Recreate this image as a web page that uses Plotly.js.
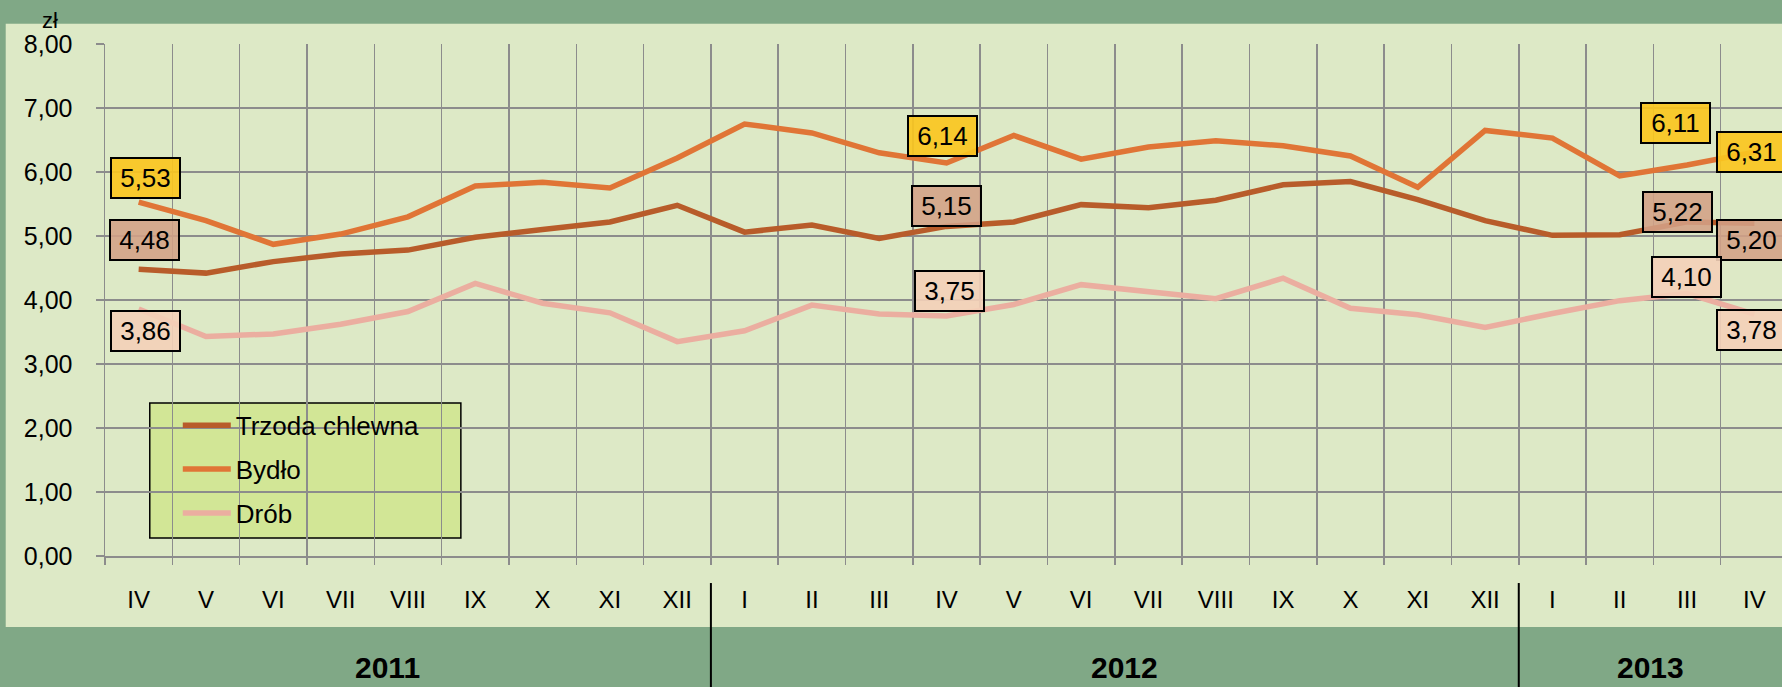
<!DOCTYPE html>
<html>
<head>
<meta charset="utf-8">
<script src="https://cdn.plot.ly/plotly-3.0.1.min.js"></script>
<style>
html,body{margin:0;padding:0;background:#80a886;}
#chart{width:1782px;height:687px;}
</style>
</head>
<body>
<div id="chart"></div>
<script>
// ---- data ----
const months = ['IV','V','VI','VII','VIII','IX','X','XI','XII',
                'I','II','III','IV','V','VI','VII','VIII','IX','X','XI','XII',
                'I','II','III','IV'];
const years = ['2011','2012','2013'];
const trzoda = [4.48,4.42,4.60,4.72,4.78,4.98,5.10,5.22,5.48,
                5.06,5.17,4.96,5.15,5.22,5.49,5.44,5.56,5.80,5.85,5.57,5.24,
                5.01,5.02,5.22,5.20];
const bydlo  = [5.53,5.24,4.87,5.03,5.30,5.78,5.84,5.75,6.22,
                6.75,6.61,6.30,6.14,6.57,6.20,6.39,6.49,6.41,6.25,5.76,6.65,
                6.53,5.94,6.11,6.31];
const drob   = [3.86,3.43,3.47,3.62,3.82,4.26,3.95,3.80,3.35,
                3.52,3.92,3.78,3.75,3.93,4.24,4.13,4.02,4.34,3.87,3.77,3.57,
                3.79,3.99,4.10,3.78];
const seriesNames = ['Trzoda chlewna','Bydło','Drób'];
const labelIdx = [0, 12, 23, 24];

// ---- styling ----
const lineColors = ['#b85c2a','#e07536','#ebaea0'];
const boxColors  = ['rgba(211,160,134,0.88)','rgba(250,198,32,0.92)','rgba(244,208,184,0.9)'];
const FONT = 'Liberation Sans, Arial, sans-serif';
const xs = months.map((m,i)=>i);

const seriesData = [trzoda, bydlo, drob];
const traces = seriesData.map((ys,s)=>({
  type:'scatter', mode:'lines', x: xs, y: ys, name: seriesNames[s],
  legendgroup: 'g'+s,
  line:{color: lineColors[s], width:5.5},
  hoverinfo:'skip'
}));

// label offsets (px) per series, per labelled index
const shifts = {
  0: [[6,29],[0,20],[-10,10],[-3,-17]],
  1: [[7,24],[-4,27],[-12,42],[-3,0]],
  2: [[7,-22],[3,25],[-1,17],[-3,-16]]
};
const fmt = v => v.toFixed(2).replace('.',',');
const annotations = [];
seriesData.forEach((ys,s)=>{
  labelIdx.forEach((idx,j)=>{
    annotations.push({
      x: idx, y: ys[idx], xref:'x', yref:'y', showarrow:false,
      xanchor:'center', yanchor:'middle',
      text: fmt(ys[idx]),
      xshift: shifts[s][j][0], yshift: shifts[s][j][1],
      bgcolor: boxColors[s], bordercolor:'#000', borderwidth:2, borderpad:2,
      width:63, height:34,
      font:{family:FONT, size:26, color:'#000'}
    });
  });
});
// year labels
const yearPos = [3.7, 14.65, 22.45];
years.forEach((y,i)=>annotations.push({
  x: yearPos[i], y: -0.217, xref:'x', yref:'paper', showarrow:false,
  xanchor:'center', yanchor:'middle',
  text:'<b>'+y+'</b>', font:{family:FONT, size:30, color:'#000'}
}));
// unit label
annotations.push({
  x:-0.033, y:1.045, xref:'paper', yref:'paper', showarrow:false,
  xanchor:'center', yanchor:'middle',
  text:'zł', font:{family:FONT, size:22, color:'#000'}
});

const shapes = [
  // light panel
  {type:'rect', xref:'paper', yref:'paper', x0:-0.0592, x1:1.01, y0:-0.1388, y1:1.0397,
   fillcolor:'#dde9c6', line:{width:0}, layer:'below'},
  // legend box
  {type:'rect', xref:'paper', yref:'paper', x0:0.0267, x1:0.2122, y0:0.0352, y1:0.299,
   fillcolor:'#d2e696', line:{color:'#000', width:1.5}, layer:'below'},
  // year separators
  {type:'line', xref:'x', yref:'paper', x0:8.5, x1:8.5, y0:-0.0528, y1:-0.26, line:{color:'#000', width:2}},
  {type:'line', xref:'x', yref:'paper', x0:20.5, x1:20.5, y0:-0.0528, y1:-0.26, line:{color:'#000', width:2}}
];

const layout = {
  width:1782, height:687,
  paper_bgcolor:'#80a886', plot_bgcolor:'rgba(0,0,0,0)',
  margin:{l:105, r:0, t:44, b:131},
  separators:', ',
  font:{family:FONT, size:25, color:'#000'},
  showlegend:true,
  legend:{x:0.0434, y:0.301, xanchor:'left', yanchor:'top', bgcolor:'rgba(0,0,0,0)',
          borderwidth:0, font:{family:FONT, size:26, color:'#000'},
          tracegroupgap:7, itemwidth:48, traceorder:'grouped'},
  xaxis:{
    range:[-0.5, 24.41], tickmode:'array', tickvals: xs, ticktext: months,
    ticks:'', showgrid:false, zeroline:false,
    showline:true, linecolor:'#8c8c8c', linewidth:1.5,
    ticklabelstandoff:22,
    tickfont:{family:FONT, size:24, color:'#000'},
    minor:{tick0:-0.5, dtick:1, ticks:'outside', ticklen:7, tickwidth:1.5, tickcolor:'#8c8c8c',
           showgrid:true, gridcolor:'#8c8c8c', gridwidth:1.5},
    fixedrange:true
  },
  yaxis:{
    range:[0,8], dtick:1, tick0:0, tickformat:'.2f',
    ticks:'outside', ticklen:8, tickwidth:1.5, tickcolor:'#8c8c8c',
    showgrid:true, gridcolor:'#8c8c8c', gridwidth:1.5, zeroline:false,
    showline:true, linecolor:'#8c8c8c', linewidth:1.5,
    ticklabelstandoff:18,
    tickfont:{family:FONT, size:25, color:'#000'},
    fixedrange:true
  },
  shapes: shapes,
  annotations: annotations
};

Plotly.newPlot('chart', traces, layout, {displayModeBar:false, staticPlot:true});
</script>
</body>
</html>
